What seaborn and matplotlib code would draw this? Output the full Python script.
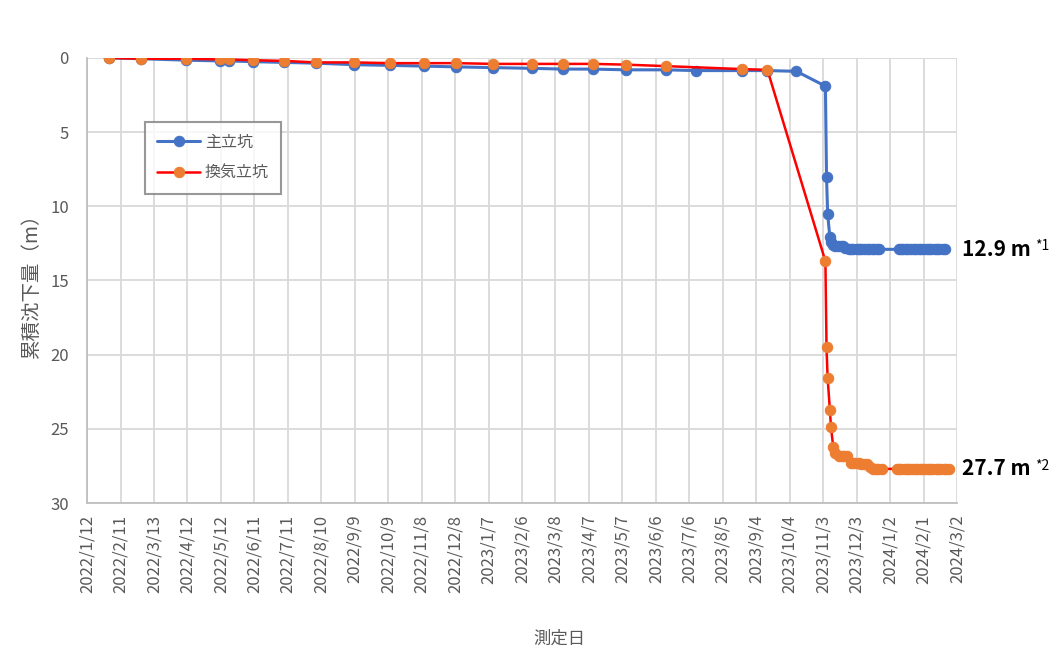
import pandas as pd
import numpy as np
import matplotlib
matplotlib.use("Agg")
import matplotlib.pyplot as plt
import seaborn as sns

# 主立坑 (main shaft)
main_dates = ["2022-02-01", "2022-03-01", "2022-04-11", "2022-05-11", "2022-05-19", "2022-06-10",
              "2022-07-08", "2022-08-05", "2022-09-08", "2022-10-11", "2022-11-10", "2022-12-09",
              "2023-01-11", "2023-02-15", "2023-03-15", "2023-04-11", "2023-05-10", "2023-06-15",
              "2023-07-12", "2023-08-22", "2023-09-14", "2023-10-10",
              "2023-11-05", "2023-11-06", "2023-11-07", "2023-11-09", "2023-11-10", "2023-11-12",
              "2023-11-14", "2023-11-16", "2023-11-19", "2023-11-21", "2023-11-23", "2023-11-26",
              "2023-11-28", "2023-11-30", "2023-12-03", "2023-12-05", "2023-12-07", "2023-12-10",
              "2023-12-12", "2023-12-14", "2023-12-17", "2023-12-19", "2023-12-21", "2023-12-23",
              "2024-01-10", "2024-01-12", "2024-01-14", "2024-01-16", "2024-01-18", "2024-01-21",
              "2024-01-23", "2024-01-25", "2024-01-28", "2024-01-30", "2024-02-01", "2024-02-04",
              "2024-02-06", "2024-02-08", "2024-02-11", "2024-02-13", "2024-02-15", "2024-02-18",
              "2024-02-20"]
main_vals = [0.0, 0.05, 0.15, 0.2, 0.2, 0.25,
             0.3, 0.35, 0.45, 0.5, 0.55, 0.6,
             0.65, 0.7, 0.75, 0.75, 0.8, 0.8,
             0.85, 0.85, 0.85, 0.9,
             1.9, 8.0, 10.5, 12.1, 12.4, 12.6,
             12.7, 12.7, 12.7, 12.7, 12.8, 12.9,
             12.9, 12.9, 12.9, 12.9, 12.9, 12.9,
             12.9, 12.9, 12.9, 12.9, 12.9, 12.9,
             12.9, 12.9, 12.9, 12.9, 12.9, 12.9,
             12.9, 12.9, 12.9, 12.9, 12.9, 12.9,
             12.9, 12.9, 12.9, 12.9, 12.9, 12.9,
             12.9]

# 換気立坑 (ventilation shaft)
vent_dates = ["2022-02-01", "2022-03-01", "2022-04-11", "2022-05-11", "2022-05-19", "2022-06-10",
              "2022-07-08", "2022-08-05", "2022-09-08", "2022-10-11", "2022-11-10", "2022-12-09",
              "2023-01-11", "2023-02-15", "2023-03-15", "2023-04-11", "2023-05-10", "2023-06-15",
              "2023-08-22", "2023-09-14",
              "2023-11-05", "2023-11-06", "2023-11-07", "2023-11-09", "2023-11-10", "2023-11-12",
              "2023-11-14", "2023-11-17", "2023-11-20", "2023-11-22", "2023-11-24", "2023-11-28",
              "2023-11-30", "2023-12-02", "2023-12-05", "2023-12-07", "2023-12-10", "2023-12-12",
              "2023-12-15", "2023-12-18", "2023-12-20", "2023-12-22", "2023-12-26",
              "2024-01-08", "2024-01-10", "2024-01-12", "2024-01-15", "2024-01-17", "2024-01-19",
              "2024-01-22", "2024-01-24", "2024-01-26", "2024-01-29", "2024-01-31", "2024-02-02",
              "2024-02-05", "2024-02-07", "2024-02-09", "2024-02-12", "2024-02-14", "2024-02-16",
              "2024-02-19", "2024-02-21", "2024-02-24"]
vent_vals = [0.0, 0.05, 0.05, 0.1, 0.1, 0.15,
             0.2, 0.3, 0.3, 0.35, 0.35, 0.35,
             0.4, 0.4, 0.4, 0.4, 0.45, 0.55,
             0.75, 0.8,
             13.7, 19.5, 21.6, 23.7, 24.9, 26.2,
             26.6, 26.8, 26.8, 26.8, 26.8, 27.3,
             27.3, 27.3, 27.3, 27.4, 27.4, 27.4,
             27.6, 27.7, 27.7, 27.7, 27.7,
             27.7, 27.7, 27.7, 27.7, 27.7, 27.7,
             27.7, 27.7, 27.7, 27.7, 27.7, 27.7,
             27.7, 27.7, 27.7, 27.7, 27.7, 27.7,
             27.7, 27.7, 27.7]

tick_labels = ["2022/1/12", "2022/2/11", "2022/3/13", "2022/4/12", "2022/5/12", "2022/6/11",
               "2022/7/11", "2022/8/10", "2022/9/9", "2022/10/9", "2022/11/8", "2022/12/8",
               "2023/1/7", "2023/2/6", "2023/3/8", "2023/4/7", "2023/5/7", "2023/6/6",
               "2023/7/6", "2023/8/5", "2023/9/4", "2023/10/4", "2023/11/3", "2023/12/3",
               "2024/1/2", "2024/2/1", "2024/3/2"]

main_df = pd.DataFrame({"date": pd.to_datetime(main_dates), "value": main_vals})
vent_df = pd.DataFrame({"date": pd.to_datetime(vent_dates), "value": vent_vals})
ticks = pd.to_datetime(tick_labels, format="%Y/%m/%d")

sns.set_style("white")
plt.rcParams['font.family'] = ['Noto Sans CJK JP', 'DejaVu Sans']

grey_txt = "#595959"
grid_c = "#D9D9D9"
blue = "#4472C4"
orange = "#ED7D31"

fig = plt.figure(figsize=(10.59, 6.52), dpi=100)
ax = fig.add_axes([0.0822, 0.2285, 0.8215, 0.6826])

sns.lineplot(data=main_df, x="date", y="value", ax=ax, color=blue, linewidth=2.2,
             marker="o", markersize=7.5, markeredgecolor=blue, markerfacecolor=blue,
             label="主立坑", sort=False, zorder=3)
sns.lineplot(data=vent_df, x="date", y="value", ax=ax, color="#FF0000", linewidth=1.8,
             marker="o", markersize=7.5, markeredgecolor=orange, markerfacecolor=orange,
             label="換気立坑", sort=False, zorder=4)

ax.set_xlim(ticks[0], ticks[-1])
ax.set_ylim(30, 0)
ax.set_yticks(np.arange(0, 31, 5))
ax.set_xticks(ticks)
ax.set_xticklabels(tick_labels, rotation=90)

ax.grid(True, color=grid_c, linewidth=1.3)
ax.set_axisbelow(True)
for s in ["top", "right"]:
    ax.spines[s].set_visible(False)
for s in ["left", "bottom"]:
    ax.spines[s].set_color("#BFBFBF")
    ax.spines[s].set_linewidth(1.3)
ax.tick_params(axis="both", colors="#BFBFBF", labelcolor=grey_txt, labelsize=12,
               length=5, width=1.2, direction="out")
ax.tick_params(axis="y", pad=8)

ax.set_xlabel("測定日", fontsize=12.5, color=grey_txt)
ax.xaxis.set_label_coords(0.543, -0.285)
ax.set_ylabel("累積沈下量（m）", fontsize=14, color=grey_txt, labelpad=6)

leg = ax.legend(loc="upper left", bbox_to_anchor=(0.0667, 0.856), fontsize=11.5,
                frameon=True, fancybox=False, borderpad=0.75, labelspacing=0.85,
                handlelength=2.7, handletextpad=0.3, borderaxespad=0)
leg.get_frame().set_edgecolor("#7F7F7F")
leg.get_frame().set_linewidth(1.5)
for t in leg.get_texts():
    t.set_color(grey_txt)

# end-value labels
for val, note in [(main_vals[-1], "*1"), (vent_vals[-1], "*2")]:
    ax.annotate(f"{val} m", xy=(1.0, val), xycoords=("axes fraction", "data"),
                xytext=(5, 0), textcoords="offset pixels", fontsize=15, fontweight="bold",
                va="center", ha="left", color="black", annotation_clip=False)
    ax.annotate(note, xy=(1.0, val), xycoords=("axes fraction", "data"),
                xytext=(78, 3), textcoords="offset pixels", fontsize=10,
                va="center", ha="left", color="black", annotation_clip=False)

fig.savefig("out.png", dpi=100)
